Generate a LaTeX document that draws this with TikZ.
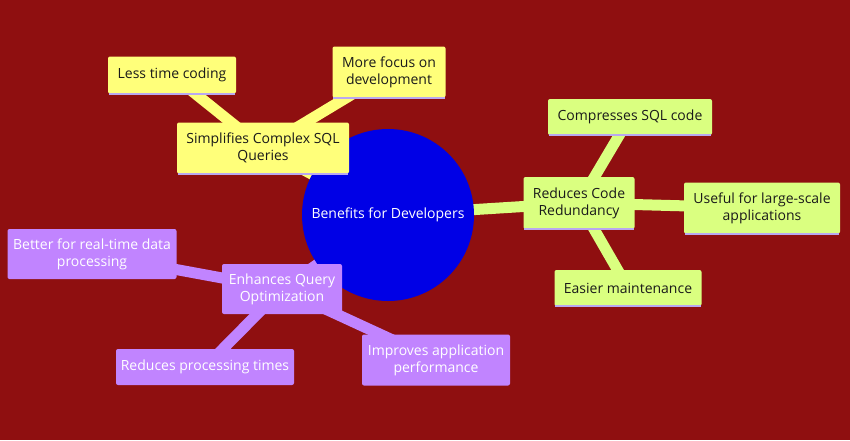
\documentclass[tikz,border=0pt]{standalone}
\usepackage{fontspec}
\setmainfont{Open Sans}
\definecolor{bg}{HTML}{8F0F10}
\definecolor{hub}{HTML}{0000E6}
\definecolor{yel}{HTML}{FFFF7A}
\definecolor{grn}{HTML}{DAFF80}
\definecolor{pur}{HTML}{C184FF}
\definecolor{ink}{HTML}{1A1A1A}
\definecolor{edge}{HTML}{B9A8F0}
\pgfdeclarelayer{back}
\pgfsetlayers{back,main}
\tikzset{
  box/.style={rectangle, rounded corners=2pt, inner sep=2pt, align=center, font=\fontsize{14}{17}\selectfont},
  ybox/.style={box, fill=yel, text=ink},
  gbox/.style={box, fill=grn, text=ink},
  pbox/.style={box, fill=pur, text=white},
  link/.style={line width=11pt},
  rim/.style={edge, line width=1.6pt}
}
\begin{document}
\begin{tikzpicture}[x=1pt,y=-1pt]
\begin{pgfonlayer}{back}
\fill[bg] (0,0) rectangle (850,440);
\end{pgfonlayer}
\useasboundingbox (0,0) rectangle (850,440);
% nodes
\node[circle, fill=hub, minimum size=172pt, inner sep=0pt, text=white, font=\fontsize{14}{17}\selectfont] (hubn) at (388,215) {Benefits for Developers};
\node[ybox, minimum width=172pt, minimum height=51pt] (simp) at (263,148) {Simplifies Complex SQL\\Queries};
\node[ybox, minimum width=128pt, minimum height=37pt] (less) at (172,75) {Less time coding};
\node[ybox, minimum width=113pt, minimum height=51pt] (more) at (389,72) {More focus on\\development};
\node[gbox, minimum width=111pt, minimum height=52pt] (red) at (579,203) {Reduces Code\\Redundancy};
\node[gbox, minimum width=164pt, minimum height=36pt] (comp) at (630,117) {Compresses SQL code};
\node[gbox, minimum width=156pt, minimum height=51pt] (useful) at (762,208) {Useful for large-scale\\applications};
\node[gbox, minimum width=147pt, minimum height=36pt] (easier) at (628,288) {Easier maintenance};
\node[pbox, minimum width=120pt, minimum height=50pt] (enh) at (282,289) {Enhances Query\\Optimization};
\node[pbox, minimum width=169pt, minimum height=50pt] (better) at (92,254) {Better for real-time data\\processing};
\node[pbox, minimum width=178pt, minimum height=36pt] (rproc) at (205,367) {Reduces processing times};
\node[pbox, minimum width=148pt, minimum height=51pt] (impr) at (436,360) {Improves application\\performance};
% bottom rims
\foreach \n in {simp,less,more,red,comp,useful,easier}
  \draw[rim] ([xshift=1pt]\n.south west) -- ([xshift=-1pt]\n.south east);
% connectors behind
\begin{pgfonlayer}{back}
\draw[link, yel] (hubn.center) -- (simp.center);
\draw[link, yel] (simp.center) -- (less.center);
\draw[link, yel] (simp.center) -- (more.center);
\draw[link, grn] (hubn.center) -- (red.center);
\draw[link, grn] (red.center) -- (comp.center);
\draw[link, grn] (red.center) -- (useful.center);
\draw[link, grn] (red.center) -- (easier.center);
\draw[link, pur] (hubn.center) -- (enh.center);
\draw[link, pur] (enh.center) -- (better.center);
\draw[link, pur] (enh.center) -- (rproc.center);
\draw[link, pur] (enh.center) -- (impr.center);
\end{pgfonlayer}
\end{tikzpicture}
\end{document}
